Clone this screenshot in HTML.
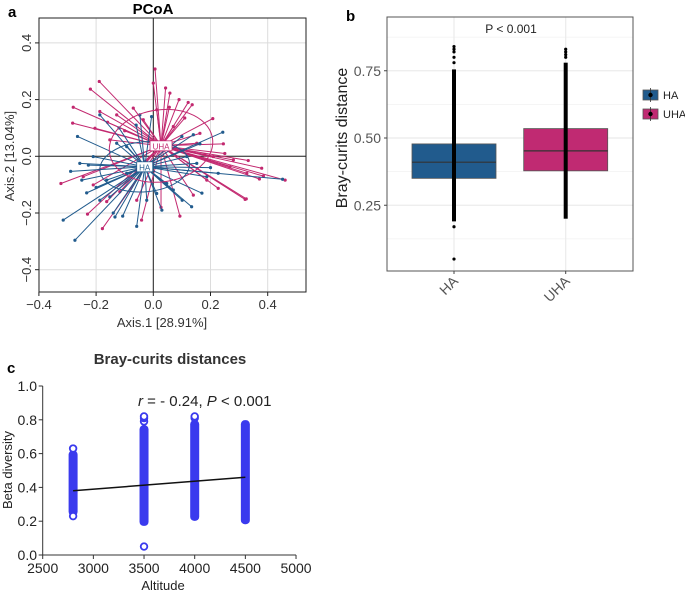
<!DOCTYPE html>
<html><head><meta charset="utf-8"><style>
body{margin:0;background:#fff;}
svg{display:block;font-family:"Liberation Sans",Arial,sans-serif;}
</style></head><body>
<svg id="fig" width="685" height="594" viewBox="0 0 685 594"></svg>
<script>
// ---------- Panel a data ----------
const pcoaCentroidHA = [-0.03, -0.037];
const pcoaCentroidUHA = [0.027, 0.037];
const pcoaUHAx = [0.006,-0.189,-0.22,-0.28,-0.282,-0.323,-0.23,-0.178,0,0.043,0.058,0.056,0.122,0.136,0.208,0.245,0.332,0.379,0.385,0.371,0.327,0.461,0.321,0.227,0.093,0.027,-0.041,-0.163,-0.245,-0.21,-0.187,-0.204,-0.07,-0.128,0.11,0.163,0.21,0.28,0.187,0.14,-0.058,-0.117,-0.152,0.07,-0.035,0.012,0.152,0.268,0.325,0.09,-0.1,-0.16,0.18,0.25];
const pcoaUHAy = [0.308,0.264,0.237,0.173,0.117,-0.096,-0.204,-0.255,0.258,0.241,0.223,0.173,0.19,0.182,0.133,0.044,-0.015,-0.042,-0.07,-0.08,-0.06,-0.084,-0.152,-0.113,-0.211,-0.18,-0.225,-0.16,-0.072,-0.101,0.158,0.099,0.17,0.146,0.135,0.081,-0.001,-0.013,-0.084,-0.137,-0.155,-0.125,0.058,0.105,0.129,0.164,0.046,-0.037,-0.15,0.2,0.09,0.12,0.005,0.01];
const pcoaHAx = [-0.265,-0.315,-0.274,-0.289,-0.25,-0.233,-0.058,-0.134,-0.107,0.134,0.101,0.243,0.14,0.163,0.452,0.187,0.07,-0.187,-0.21,-0.227,-0.152,-0.006,-0.047,0.117,0.047,-0.093,-0.163,-0.257,0.227,0.152,-0.128,-0.093,-0.023,0.012,-0.187,-0.14,-0.12,0.2,0.1,-0.2,-0.06,0.03,0.17];
const pcoaHAy = [0.07,-0.225,-0.296,-0.053,-0.084,-0.129,-0.247,-0.214,-0.211,-0.178,-0.155,0.085,0.076,0.044,-0.081,-0.072,-0.119,0.146,-0.001,-0.031,-0.143,0.14,0.146,-0.001,-0.096,-0.06,-0.084,-0.025,-0.06,-0.025,0.046,0.034,-0.155,-0.131,-0.155,-0.2,0.1,-0.04,0.07,-0.11,0.11,-0.19,-0.13];
const pcoaTicks = [-0.4,-0.2,0.0,0.2,0.4];
// ---------- Panel b data ----------
const boxGroups = ["HA","UHA"];
const boxQ1 = [0.35,0.378];
const boxMedian = [0.41,0.452];
const boxQ3 = [0.478,0.535];
const boxDenseLow = [0.19,0.2];
const boxDenseHigh = [0.755,0.78];
const boxOutliersHA = [0.84,0.83,0.82,0.80,0.78,0.17,0.05];
const boxOutliersUHA = [0.83,0.82,0.81,0.80];
const boxTicks = [0.25,0.50,0.75];
// ---------- Panel c data ----------
const altitudes = [2800,3500,4000,4500];
const betaLow = [0.25,0.19,0.22,0.2];
const betaHigh = [0.6,0.75,0.78,0.78];
const betaOutlierAlt = [2800,2800,3500,3500,3500,3500,4000,4000];
const betaOutlierVal = [0.63,0.23,0.05,0.79,0.81,0.82,0.81,0.82];
const fitLine = [[2800,0.38],[4500,0.46]];
const altTicks = [2500,3000,3500,4000,4500,5000];
const betaTicks = [0.0,0.2,0.4,0.6,0.8,1.0];

const NS="http://www.w3.org/2000/svg";
const svg=document.getElementById('fig');
function el(tag,attrs,parent,text){const e=document.createElementNS(NS,tag);for(const k in attrs)e.setAttribute(k,attrs[k]);if(text!==undefined)e.textContent=text;(parent||svg).appendChild(e);return e;}

// ===== Panel a =====
const ax=v=>153.3+v*286, ay=v=>156.3-v*283.5;
const ga=el('g',{});

let t=el('text',{x:8,y:17,'font-size':15,'font-weight':'bold'},ga,'a');

t=el('text',{x:153,y:14,'font-size':15,'font-weight':'bold','text-anchor':'middle'},ga,'PCoA');

pcoaTicks.forEach(v=>{
  let g=el('line',{x1:ax(v),x2:ax(v),y1:18,y2:292,stroke:'#dcdcdc','stroke-width':1},ga);
  
  g=el('line',{x1:39,x2:306,y1:ay(v),y2:ay(v),stroke:'#dcdcdc','stroke-width':1},ga);
  
});
let l=el('line',{x1:39,x2:306,y1:ay(0),y2:ay(0),stroke:'#222','stroke-width':1},ga);

l=el('line',{x1:ax(0),x2:ax(0),y1:18,y2:292,stroke:'#222','stroke-width':1},ga);

function spokes(xs,ys,c,col,name){
  xs.forEach((x,i)=>{
    let s=el('line',{x1:ax(c[0]),y1:ay(c[1]),x2:ax(x),y2:ay(ys[i]),stroke:col,'stroke-width':1},ga);
    
    let p=el('circle',{cx:ax(x),cy:ay(ys[i]),r:1.6,fill:col},ga);
    
  });
}
spokes(pcoaUHAx,pcoaUHAy,pcoaCentroidUHA,'#c2286f','uha');
spokes(pcoaHAx,pcoaHAy,pcoaCentroidHA,'#215b8d','ha');
let e=el('ellipse',{cx:ax(pcoaCentroidUHA[0]),cy:ay(pcoaCentroidUHA[1]),rx:52,ry:36,fill:'none',stroke:'#c2286f','stroke-width':1,transform:`rotate(-8 ${ax(pcoaCentroidUHA[0])} ${ay(pcoaCentroidUHA[1])})`},ga);

e=el('ellipse',{cx:ax(pcoaCentroidHA[0]),cy:ay(pcoaCentroidHA[1]),rx:45,ry:25,fill:'none',stroke:'#215b8d','stroke-width':1,transform:`rotate(-5 ${ax(pcoaCentroidHA[0])} ${ay(pcoaCentroidHA[1])})`},ga);

function centLabel(c,txt,col,name){
  const cx=ax(c[0]),cy=ay(c[1]),w=txt.length*6+4;
  let r=el('rect',{x:cx-w/2,y:cy-5,width:w,height:10,fill:'#fff',stroke:col,'stroke-width':0.8},ga);
  
  let tt=el('text',{x:cx,y:cy+3.5,'font-size':8,fill:col,'text-anchor':'middle'},ga,txt);
  
}
centLabel(pcoaCentroidUHA,'UHA','#c2286f','uha');
centLabel(pcoaCentroidHA,'HA','#215b8d','ha');
let fr=el('rect',{x:39,y:18,width:267,height:274,fill:'none',stroke:'#222','stroke-width':1},ga);

pcoaTicks.forEach(v=>{
  const lab=(v<0?'\u2212':'')+Math.abs(v).toFixed(1);
  let tk=el('line',{x1:ax(v),x2:ax(v),y1:292,y2:296,stroke:'#222'},ga);
  
  let tx=el('text',{x:ax(v),y:309,'font-size':13,fill:'#333','text-anchor':'middle'},ga,lab);
  
  tk=el('line',{x1:35,x2:39,y1:ay(v),y2:ay(v),stroke:'#222'},ga);
  
  tx=el('text',{x:0,y:0,'font-size':13,fill:'#333','text-anchor':'middle',transform:`translate(31 ${ay(v)}) rotate(-90)`},ga,lab);
  
});
t=el('text',{x:162,y:327,'font-size':13,fill:'#333','text-anchor':'middle'},ga,'Axis.1  [28.91%]');

t=el('text',{x:0,y:0,'font-size':13,fill:'#333','text-anchor':'middle',transform:'translate(14 156) rotate(-90)'},ga,'Axis.2  [13.04%]');


// ===== Panel b =====
const by=v=>138-(v-0.5)*269;
const bx=[454,565.7];
const gb=el('g',{});

t=el('text',{x:346,y:21,'font-size':15,'font-weight':'bold'},gb,'b');

for(let v=0.125;v<0.95;v+=0.125){
  let g=el('line',{x1:387,x2:633,y1:by(v),y2:by(v),stroke:'#ebebeb','stroke-width':Math.abs((v*4)%1)<0.01?1.2:0.6},gb);
  
}
bx.forEach(x=>{let g=el('line',{x1:x,x2:x,y1:17,y2:271,stroke:'#ebebeb','stroke-width':1.2},gb);
  });
const bcols=['#215b8d','#c02a72'];
boxGroups.forEach((g,i)=>{
  let r=el('rect',{x:bx[i]-42,y:by(boxQ3[i]),width:84,height:by(boxQ1[i])-by(boxQ3[i]),fill:bcols[i],stroke:'#555','stroke-width':0.8},gb);
  
  let m=el('line',{x1:bx[i]-42,x2:bx[i]+42,y1:by(boxMedian[i]),y2:by(boxMedian[i]),stroke:'#333','stroke-width':1.2},gb);
  
  let d=el('rect',{x:bx[i]-2,y:by(boxDenseHigh[i]),width:4,height:by(boxDenseLow[i])-by(boxDenseHigh[i]),fill:'#000'},gb);
  
});
boxOutliersHA.forEach(v=>{let c=el('circle',{cx:bx[0],cy:by(v),r:1.6,fill:'#000'},gb);
  });
boxOutliersUHA.forEach(v=>{let c=el('circle',{cx:bx[1],cy:by(v),r:1.6,fill:'#000'},gb);
  });
fr=el('rect',{x:387,y:17,width:246,height:254,fill:'none',stroke:'#555','stroke-width':1},gb);

boxTicks.forEach(v=>{
  let tk=el('line',{x1:384,x2:387,y1:by(v),y2:by(v),stroke:'#444'},gb);
  
  let tx=el('text',{x:381,y:by(v)+5,'font-size':14,fill:'#555','text-anchor':'end'},gb,v.toFixed(2));
  
});
boxGroups.forEach((g,i)=>{
  let tk=el('line',{x1:bx[i],x2:bx[i],y1:271,y2:274,stroke:'#444'},gb);
  
  let tx=el('text',{x:0,y:0,'font-size':14,fill:'#555','text-anchor':'end',transform:`translate(${bx[i]+5} ${282}) rotate(-45)`},gb,g);
  
});
t=el('text',{x:511,y:33,'font-size':12,fill:'#222','text-anchor':'middle'},gb,'P < 0.001');

t=el('text',{x:0,y:0,'font-size':16,fill:'#222','text-anchor':'middle',transform:'translate(347 138) rotate(-90)'},gb,'Bray-curits distance');

boxGroups.forEach((g,i)=>{
  const ly=95+i*19;
  let r=el('rect',{x:643,y:ly-5,width:15,height:10,fill:bcols[i],stroke:'#555','stroke-width':0.8},gb);
  
  let ln=el('line',{x1:650.5,x2:650.5,y1:ly-7,y2:ly+7,stroke:'#333','stroke-width':0.8},gb);
  
  let c=el('circle',{cx:650.5,cy:ly,r:2.2,fill:'#000'},gb);
  
  let tx=el('text',{x:663,y:ly+4,'font-size':11,fill:'#222'},gb,g);
  
});

// ===== Panel c =====
const cx=v=>42.7+(v-2500)*0.10133, cy=v=>555-v*169;
const gc=el('g',{});

t=el('text',{x:7,y:373,'font-size':15,'font-weight':'bold'},gc,'c');

t=el('text',{x:170,y:364,'font-size':15,'font-weight':'bold',fill:'#333','text-anchor':'middle'},gc,'Bray-curits distances');

altitudes.forEach((a,i)=>{
  let r=el('rect',{x:cx(a)-4.5,y:cy(betaHigh[i])-3,width:9,height:cy(betaLow[i])-cy(betaHigh[i])+6,rx:4,fill:'#3a3aee'},gc);
  
});
betaOutlierAlt.forEach((a,i)=>{
  let c=el('circle',{cx:cx(a),cy:cy(betaOutlierVal[i]),r:3.3,fill:'#fff',stroke:'#3a3aee','stroke-width':1.8},gc);
  
});
l=el('line',{x1:cx(fitLine[0][0]),y1:cy(fitLine[0][1]),x2:cx(fitLine[1][0]),y2:cy(fitLine[1][1]),stroke:'#111','stroke-width':1.5},gc);

l=el('line',{x1:42.7,x2:42.7,y1:cy(1),y2:cy(0),stroke:'#333'},gc);

l=el('line',{x1:42.7,x2:cx(5000),y1:cy(0),y2:cy(0),stroke:'#333'},gc);

betaTicks.forEach(v=>{
  let tk=el('line',{x1:38.7,x2:42.7,y1:cy(v),y2:cy(v),stroke:'#333'},gc);
  
  let tx=el('text',{x:37,y:cy(v)+5,'font-size':14,fill:'#222','text-anchor':'end'},gc,v.toFixed(1));
  
});
altTicks.forEach(v=>{
  let tk=el('line',{x1:cx(v),x2:cx(v),y1:cy(0),y2:cy(0)+4,stroke:'#333'},gc);
  
  let tx=el('text',{x:cx(v),y:cy(0)+18,'font-size':14,fill:'#222','text-anchor':'middle'},gc,String(v));
  
});
t=el('text',{x:163,y:590,'font-size':13,fill:'#222','text-anchor':'middle'},gc,'Altitude');

t=el('text',{x:0,y:0,'font-size':13,fill:'#222','text-anchor':'middle',transform:'translate(12 470) rotate(-90)'},gc,'Beta diversity');

t=el('text',{x:138,y:406,'font-size':15,fill:'#222'},gc);

el('tspan',{'font-style':'italic'},t,'r');
el('tspan',{},t,' = - 0.24, ');
el('tspan',{'font-style':'italic'},t,'P');
el('tspan',{},t,' < 0.001');
</script>
</body></html>
